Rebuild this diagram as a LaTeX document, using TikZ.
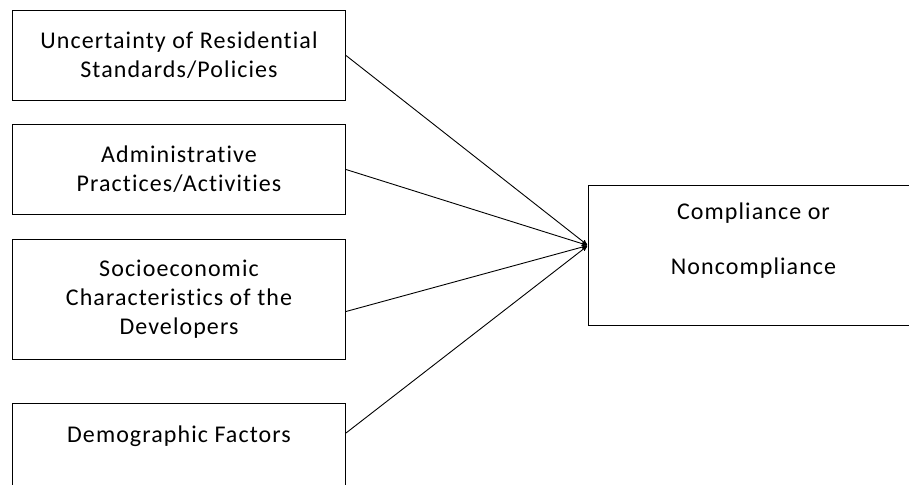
\documentclass[tikz,border=0pt]{standalone}
\usepackage{fontspec}
\setmainfont[LetterSpace=4.5,Ligatures=CommonOff]{Carlito}
\usetikzlibrary{arrows,positioning}
\tikzset{>=stealth',shorten >=1pt}
\tikzset{factor/.style={draw,rectangle,line width=1pt,minimum width=333pt,inner sep=0pt,
        align=center,font=\fontsize{24}{29}\selectfont}}
\tikzset{boxtext/.style={inner sep=0pt,align=center}}

\begin{document}
\begin{tikzpicture}[x=1pt,y=-1pt,node distance=23pt]
        \useasboundingbox (0,0) rectangle (909,484);
        \node[factor,minimum height=90pt,anchor=north west] (unc) at (12,10) {Uncertainty of Residential\\Standards/Policies};
        \node[factor,minimum height=90pt] (adm) [below=23pt of unc] {Administrative\\Practices/Activities};
        \node[factor,minimum height=120pt] (soc) [below=24pt of adm] {Socioeconomic\\Characteristics of the\\Developers};
        \node[factor,minimum height=100pt] (dem) [below=43pt of soc] {};
        \node[boxtext,font=\fontsize{24}{29}\selectfont] (demtxt) [below=23pt of dem.north] {Demographic Factors};
        % outcome box on the right
        \node[factor,minimum width=330pt,minimum height=140pt,anchor=north west] (comp) at (588,185) {};
        \node[boxtext,font=\fontsize{24}{55}\selectfont] (comptxt) [below=18pt of comp.north] {Compliance or\\Noncompliance};
        \path[->,line width=0.9pt] (unc.east) edge ([yshift=10pt]comp.west)
            (adm.east) edge ([yshift=10pt]comp.west)
            ([yshift=-12pt]soc.east) edge ([yshift=10pt]comp.west)
            ([yshift=-30pt]dem.north east) edge ([yshift=10pt]comp.west);
\end{tikzpicture}
\end{document}
